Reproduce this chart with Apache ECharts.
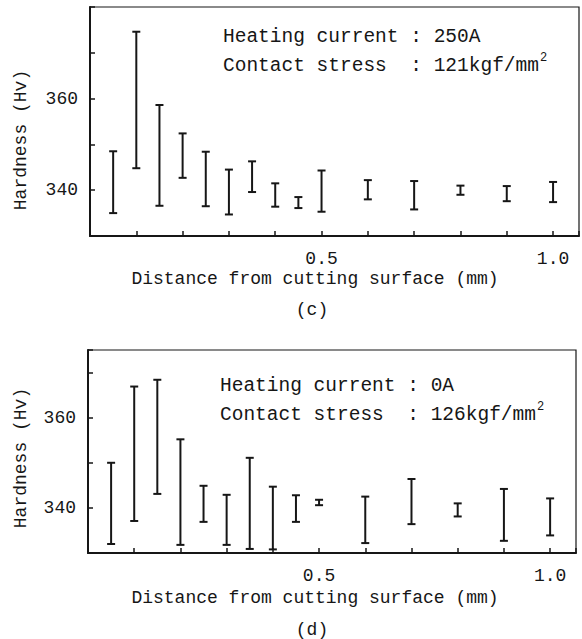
<!DOCTYPE html>
<html>
<head>
<meta charset="utf-8">
<script src="https://cdn.jsdelivr.net/npm/echarts@6/dist/echarts.min.js"></script>
<style>
  html, body { margin: 0; padding: 0; background: #fff; }
  #chart { width: 582px; height: 639px; }
</style>
</head>
<body>
<div id="chart"></div>
<script>
// distance from cutting surface (mm)
var distance = [0.05, 0.1, 0.15, 0.2, 0.25, 0.3, 0.35, 0.4, 0.45, 0.5, 0.6, 0.7, 0.8, 0.9, 1.0];

// (c) heating current 250A
var lowC  = [335.0, 344.8, 336.6, 342.7, 336.5, 334.7, 339.6, 336.4, 336.1, 335.3, 338.0, 335.8, 339.0, 337.6, 337.4];
var highC = [348.5, 374.6, 358.6, 352.4, 348.4, 344.5, 346.3, 341.5, 338.5, 344.3, 342.2, 342.0, 341.0, 340.9, 341.8];

// (d) heating current 0A
var lowD  = [332.0, 337.1, 343.1, 331.8, 336.9, 331.8, 330.9, 330.8, 336.9, 340.6, 332.2, 336.4, 338.1, 332.7, 333.9];
var highD = [350.0, 366.9, 368.4, 355.2, 344.9, 342.9, 351.1, 344.7, 342.8, 341.8, 342.5, 346.4, 341.0, 344.2, 342.1];

var xLabels = [0.5, 1.0];
var yLabels = [340, 360];

var ink = '#161616';
var mono = 'Liberation Mono';

function pack(lo, hi) {
  return distance.map(function (d, i) { return [d, lo[i], hi[i]]; });
}

function renderErr(params, api) {
  var x = api.value(0);
  var lo = api.coord([x, api.value(1)]);
  var hi = api.coord([x, api.value(2)]);
  var w = 4;
  var st = { stroke: ink, lineWidth: 2 };
  return {
    type: 'group',
    children: [
      { type: 'line', shape: { x1: lo[0], y1: lo[1], x2: hi[0], y2: hi[1] }, style: st },
      { type: 'line', shape: { x1: lo[0] - w, y1: lo[1], x2: lo[0] + w, y2: lo[1] }, style: st },
      { type: 'line', shape: { x1: hi[0] - w, y1: hi[1], x2: hi[0] + w, y2: hi[1] }, style: st }
    ]
  };
}

function xAxisOf(idx) {
  return {
    type: 'value', gridIndex: idx, min: 0, max: 1.056, interval: 0.1,
    splitLine: { show: false },
    axisLine: { lineStyle: { color: ink, width: 2 } },
    axisTick: { inside: true, length: 5, lineStyle: { color: ink, width: 1.5 } },
    axisLabel: {
      margin: 14, color: ink, fontFamily: mono, fontSize: 18,
      formatter: function (v) {
        var r = Math.round(v * 10) / 10;
        return (xLabels.indexOf(r) >= 0 && Math.abs(v - r) < 1e-6) ? r.toFixed(1) : '';
      }
    }
  };
}

function yAxisOf(idx, max) {
  return {
    type: 'value', gridIndex: idx, min: 330, max: max, interval: 10,
    splitLine: { show: false },
    axisLine: { lineStyle: { color: ink, width: 2 } },
    axisTick: { inside: true, length: 5, lineStyle: { color: ink, width: 1.5 } },
    axisLabel: {
      margin: 12, color: ink, fontFamily: mono, fontSize: 18,
      formatter: function (v) { return yLabels.indexOf(v) >= 0 ? String(v) : ''; }
    }
  };
}

function txt(x, y, s, size, extra) {
  var el = {
    type: 'text', x: x, y: y,
    style: {
      text: s, font: size + 'px "' + mono + '"', fill: ink,
      textAlign: 'left', textVerticalAlign: 'middle'
    }
  };
  if (extra) {
    for (var k in extra) {
      if (k === 'style') { for (var j in extra.style) el.style[j] = extra.style[j]; }
      else el[k] = extra[k];
    }
  }
  return el;
}

var chart = echarts.init(document.getElementById('chart'), null, { renderer: 'svg' });

chart.setOption({
  backgroundColor: '#fff',
  animation: false,
  grid: [
    { left: 90, right: 3, top: 7, bottom: 403, show: true, borderColor: ink, borderWidth: 1.2 },
    { left: 88, right: 6, top: 350, bottom: 86, show: true, borderColor: ink, borderWidth: 1.2 }
  ],
  xAxis: [xAxisOf(0), xAxisOf(1)],
  yAxis: [yAxisOf(0, 380), yAxisOf(1, 375)],
  series: [
    { type: 'custom', xAxisIndex: 0, yAxisIndex: 0, renderItem: renderErr, data: pack(lowC, highC) },
    { type: 'custom', xAxisIndex: 1, yAxisIndex: 1, renderItem: renderErr, data: pack(lowD, highD) }
  ],
  graphic: [
    // chart (c)
    txt(223, 37, 'Heating current : 250A', 19.5),
    txt(223, 66, 'Contact stress  : 121kgf/mm', 19.5),
    txt(540, 58, '2', 12),
    txt(21, 140, 'Hardness (Hv)', 18, { rotation: Math.PI / 2, style: { textAlign: 'center' } }),
    txt(315, 279, 'Distance from cutting surface (mm)', 18, { style: { textAlign: 'center' } }),
    txt(312, 310, '(c)', 18, { style: { textAlign: 'center' } }),
    // chart (d)
    txt(220, 386, 'Heating current : 0A', 19.5),
    txt(220, 415, 'Contact stress  : 126kgf/mm', 19.5),
    txt(537, 407, '2', 12),
    txt(21, 458, 'Hardness (Hv)', 18, { rotation: Math.PI / 2, style: { textAlign: 'center' } }),
    txt(315, 598, 'Distance from cutting surface (mm)', 18, { style: { textAlign: 'center' } }),
    txt(312, 630, '(d)', 18, { style: { textAlign: 'center' } })
  ]
});
</script>
</body>
</html>
